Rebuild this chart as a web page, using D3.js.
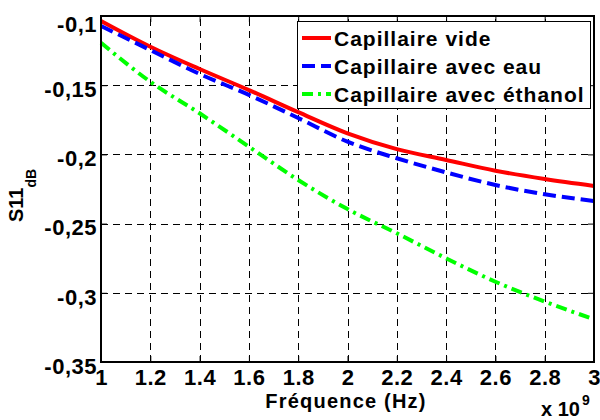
<!DOCTYPE html>
<html>
<head>
<meta charset="utf-8">
<script src="https://cdn.jsdelivr.net/npm/d3@7"></script>
<style>
  html, body { margin: 0; padding: 0; background: #fff; }
  svg { display: block; font-family: "Liberation Sans", Arial, Helvetica, sans-serif; font-weight: bold; }
</style>
</head>
<body>
<svg id="chart" width="600" height="420"></svg>
<script>
// ---- data (frequency in units of 10^9 Hz) ----
const freq = [1.0, 1.2, 1.4, 1.6, 1.8, 2.0, 2.2, 2.4, 2.6, 2.8, 3.0];
const capillaireVide = [-0.1036, -0.1222, -0.1383, -0.1535, -0.1695, -0.1848, -0.1962, -0.2040, -0.2118, -0.2178, -0.2228];
const capillaireEau = [-0.1072, -0.1246, -0.1419, -0.1570, -0.1737, -0.1908, -0.2028, -0.2130, -0.2221, -0.2288, -0.2337];
const capillaireEthanol = [-0.1193, -0.1475, -0.1703, -0.1944, -0.2185, -0.2395, -0.2570, -0.2751, -0.2920, -0.3064, -0.3191];
const seriesNames = ["Capillaire vide", "Capillaire avec eau", "Capillaire avec éthanol"];
const xTicks = [1, 1.2, 1.4, 1.6, 1.8, 2, 2.2, 2.4, 2.6, 2.8, 3];
const xTickLabels = ["1", "1.2", "1.4", "1.6", "1.8", "2", "2.2", "2.4", "2.6", "2.8", "3"];
const yTicks = [-0.35, -0.3, -0.25, -0.2, -0.15, -0.1];
const yTickLabels = ["-0,35", "-0,3", "-0,25", "-0,2", "-0,15", "-0,1"];

// ---- layout ----
const L = 101, R = 594, T = 16, B = 362;
const svg = d3.select("#chart");
const x = d3.scaleLinear().domain([1, 3]).range([L, R]);
const y = d3.scaleLinear().domain([-0.35, -0.1]).range([B, T]);

// grid
const grid = svg.append("g").attr("stroke", "#000").attr("stroke-width", 1).attr("stroke-dasharray", "7,5");
grid.selectAll("line.gx").data(xTicks.slice(1, -1)).join("line")
  .attr("x1", d => Math.round(x(d)) + 0.5).attr("x2", d => Math.round(x(d)) + 0.5)
  .attr("y1", B).attr("y2", T);
grid.selectAll("line.gy").data(yTicks.slice(1, -1)).join("line")
  .attr("y1", d => Math.round(y(d)) + 0.5).attr("y2", d => Math.round(y(d)) + 0.5)
  .attr("x1", L).attr("x2", R);

// axes (inward ticks on all sides)
const tickFmtX = d => xTickLabels[xTicks.indexOf(d)];
const tickFmtY = d => yTickLabels[yTicks.indexOf(d)];
const axB = svg.append("g").attr("transform", `translate(0,${B})`)
  .call(d3.axisBottom(x).tickValues(xTicks).tickFormat(tickFmtX).tickSizeInner(-6).tickSizeOuter(0));
const axT = svg.append("g").attr("transform", `translate(0,${T})`)
  .call(d3.axisTop(x).tickValues(xTicks).tickFormat("").tickSizeInner(-6).tickSizeOuter(0));
const axL = svg.append("g").attr("transform", `translate(${L},0)`)
  .call(d3.axisLeft(y).tickValues(yTicks).tickFormat(tickFmtY).tickSizeInner(-6).tickSizeOuter(0));
const axR = svg.append("g").attr("transform", `translate(${R},0)`)
  .call(d3.axisRight(y).tickValues(yTicks).tickFormat("").tickSizeInner(-6).tickSizeOuter(0));
[axB, axT, axL, axR].forEach(a => {
  a.select(".domain").remove();
  a.selectAll(".tick line").attr("stroke", "#000").attr("stroke-width", 1);
  a.selectAll("text").attr("fill", "#000").style("font-size", "22px").style("font-weight", "bold")
    .style("letter-spacing", "0.5px").attr("font-family", null);
});
axB.selectAll(".tick text").attr("y", 23).attr("dy", null);
axL.selectAll(".tick text").attr("x", -4).attr("dy", "0.42em")
  .attr("y", d => Math.max(y(d) + 2, 22) - y(d));

// series
const lineGen = d3.line().x(d => x(d[0])).y(d => y(d[1])).curve(d3.curveMonotoneX);
const series = [
  { name: seriesNames[0], vals: capillaireVide, color: "#ff0000", dash: null },
  { name: seriesNames[1], vals: capillaireEau, color: "#0000ff", dash: "13,6" },
  { name: seriesNames[2], vals: capillaireEthanol, color: "#00ff00", dash: "11,5,3,5" }
];
const plot = svg.append("g");
plot.selectAll("path").data(series).join("path")
  .attr("d", s => lineGen(freq.map((f, i) => [f, s.vals[i]])))
  .attr("fill", "none").attr("stroke", s => s.color).attr("stroke-width", 4)
  .attr("stroke-dasharray", s => s.dash);

// axis box
svg.append("rect").attr("x", L).attr("y", T).attr("width", R - L).attr("height", B - T)
  .attr("fill", "none").attr("stroke", "#000").attr("stroke-width", 2);

// legend
const leg = svg.append("g");
leg.append("rect").attr("x", 297.5).attr("y", 21.5).attr("width", 293).attr("height", 87)
  .attr("fill", "#fff").attr("stroke", "#000").attr("stroke-width", 1);
const rowY = [38, 66, 94];
series.forEach((s, i) => {
  leg.append("line").attr("x1", 302).attr("x2", 331).attr("y1", rowY[i]).attr("y2", rowY[i])
    .attr("stroke", s.color).attr("stroke-width", 4).attr("stroke-dasharray", s.dash);
  leg.append("text").attr("x", 334).attr("y", rowY[i] + 7.5).text(s.name)
    .style("font-size", "21px").style("letter-spacing", "1px").attr("fill", "#000");
});

// axis labels
svg.append("text").attr("x", 346).attr("y", 408).attr("text-anchor", "middle")
  .style("font-size", "20px").style("letter-spacing", "1.2px").text("Fréquence (Hz)");
const yl = svg.append("text").attr("transform", "translate(23,222) rotate(-90)")
  .style("font-size", "20px");
yl.append("tspan").text("S11");
yl.append("tspan").attr("dy", 13).style("font-size", "14px").text("dB");

const ex = svg.append("text").attr("x", 541).attr("y", 416).style("font-size", "20px");
ex.append("tspan").text("x 10");
ex.append("tspan").attr("dx", 2).attr("dy", -11).style("font-size", "14px").text("9");
</script>
</body>
</html>
